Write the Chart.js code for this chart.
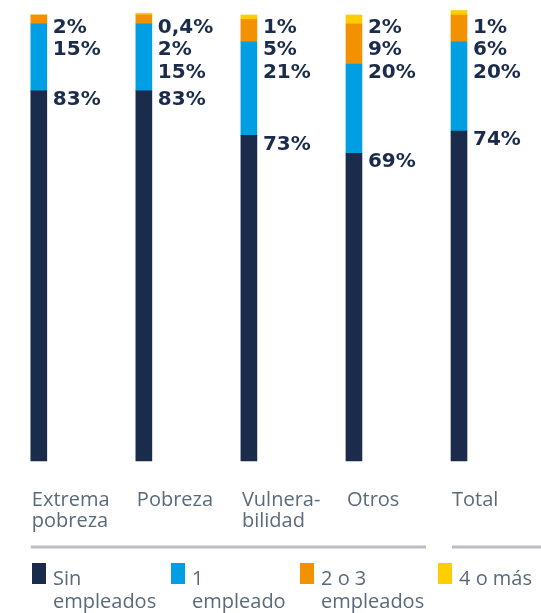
<!DOCTYPE html>
<html>
<head>
<meta charset="utf-8">
<script src="https://cdn.jsdelivr.net/npm/chart.js@4"></script>
<style>
    body { margin: 0; background: #fff; }
    #wrap { position: relative; width: 541px; height: 613px; overflow: hidden; }
    #legend { position: absolute; left: 0; top: 0; width: 541px; height: 613px; pointer-events: none; }
    .swatch { position: absolute; top: 563px; width: 14px; height: 21px; }
    .ltext { position: absolute; top: 566px; font: 20px "Open Sans", sans-serif; line-height: 23px; color: #5b6a7b; white-space: nowrap; }
</style>
</head>
<body>
<div id="wrap">
    <canvas id="chart" width="541" height="613"></canvas>
    <div id="legend"></div>
</div>
<script>
// Categorías (eje x)
const categorias = [['Extrema', 'pobreza'], 'Pobreza', ['Vulnera-', 'bilidad'], 'Otros', 'Total'];

// Porcentaje de hogares según número de empleados
const sinEmpleados = [83, 83, 73, 69, 74];
const unEmpleado = [15, 15, 21, 20, 20];
const dosOTres = [2, 2, 5, 9, 6];
const cuatroOMas = [0, 0.4, 1, 2, 1];

const series = [
    { label: ['Sin', 'empleados'], data: sinEmpleados, color: '#1b2b4b' },
    { label: ['1', 'empleado'], data: unEmpleado, color: '#009fe3' },
    { label: ['2 o 3', 'empleados'], data: dosOTres, color: '#f39200' },
    { label: ['4 o más'], data: cuatroOMas, color: '#ffcc00' }
];

const navy = '#1b2b4b';
const gris = '#5b6a7b';

function formatoPct(v) {
    return String(v).replace('.', ',') + '%';
}

// Etiquetas de valores a la derecha de cada barra, apiladas desde arriba
const etiquetasPlugin = {
    id: 'etiquetas',
    afterDatasetsDraw(chart) {
        const ctx = chart.ctx;
        const area = chart.chartArea;
        ctx.save();
        ctx.font = 'bold 20px "DejaVu Sans", sans-serif';
        ctx.fillStyle = navy;
        ctx.textAlign = 'left';
        ctx.textBaseline = 'middle';
        categorias.forEach((c, i) => {
            let prev = -Infinity;
            for (let d = series.length - 1; d >= 0; d--) {
                const v = series[d].data[i];
                if (!v) continue;
                const el = chart.getDatasetMeta(d).data[i];
                const top = Math.min(el.y, el.base);
                const y = Math.max(top + 9, prev + 22.5, area.top + 12.5);
                ctx.fillText(formatoPct(v), el.x + el.width / 2 + 6, y);
                prev = y;
            }
        });

        // Líneas separadoras bajo las categorías
        const bars = chart.getDatasetMeta(0).data;
        const first = bars[0];
        const total = bars[bars.length - 1];
        const firstLeft = first.x - first.width / 2;
        const totalLeft = total.x - total.width / 2;
        const ly = area.bottom + 86;
        ctx.strokeStyle = '#babdc9';
        ctx.lineWidth = 3;
        ctx.beginPath();
        ctx.moveTo(firstLeft, ly);
        ctx.lineTo(totalLeft - 25, ly);
        ctx.moveTo(totalLeft + 1, ly);
        ctx.lineTo(chart.width, ly);
        ctx.stroke();
        ctx.restore();
    }
};

const ctx = document.getElementById('chart').getContext('2d');
const chart = new Chart(ctx, {
    type: 'bar',
    data: {
        labels: categorias,
        datasets: series.map(s => ({
            label: s.label.join(' '),
            data: s.data,
            backgroundColor: s.color,
            barThickness: 16,
            borderWidth: 0,
            clip: false
        }))
    },
    options: {
        responsive: false,
        animation: false,
        layout: { padding: { left: 38.8, right: 82, top: 15, bottom: 72 } },
        plugins: { legend: { display: false }, tooltip: { enabled: false } },
        scales: {
            x: {
                stacked: true,
                offset: false,
                grid: { display: false, drawTicks: false },
                border: { display: false },
                afterFit(scale) { scale.height = 80; },
                ticks: {
                    align: 'start',
                    labelOffset: -7,
                    padding: 29,
                    color: gris,
                    autoSkip: false,
                    maxRotation: 0,
                    font: { family: '"Open Sans", sans-serif', size: 20, lineHeight: 1.05 }
                }
            },
            y: {
                stacked: true,
                display: false,
                min: 0,
                max: 100
            }
        }
    },
    plugins: [etiquetasPlugin]
});

// Leyenda en HTML
const legendLeft = [32, 171, 300, 438];
const legendDiv = document.getElementById('legend');
series.forEach((s, i) => {
    const sw = document.createElement('div');
    sw.className = 'swatch';
    sw.style.left = legendLeft[i] + 'px';
    sw.style.background = s.color;
    legendDiv.appendChild(sw);
    const t = document.createElement('div');
    t.className = 'ltext';
    t.style.left = (legendLeft[i] + 21) + 'px';
    t.innerHTML = s.label.join('<br>');
    legendDiv.appendChild(t);
});
</script>
</body>
</html>
